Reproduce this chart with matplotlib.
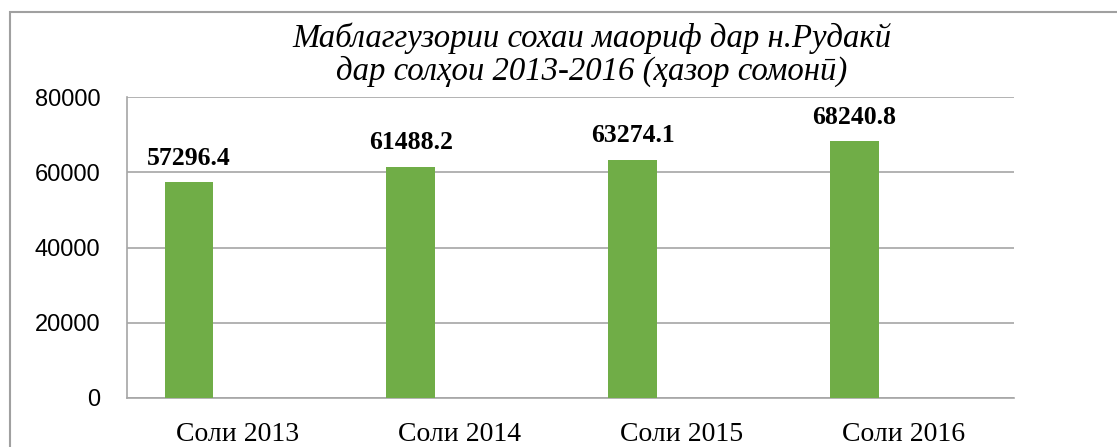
import matplotlib
matplotlib.use('Agg')
import matplotlib.pyplot as plt
from matplotlib.patches import Rectangle

years = ['Соли 2013', 'Соли 2014', 'Соли 2015', 'Соли 2016']
funding = [57296.4, 61488.2, 63274.1, 68240.8]
value_labels = ['57296.4', '61488.2', '63274.1', '68240.8']
title = 'Маблаггузории сохаи маориф дар н.Рудакй\nдар солҳои 2013-2016 (ҳазор сомонӣ)'

serif = ['Liberation Serif', 'DejaVu Serif']
grid_col = '#A6A6A6'

fig = plt.figure(figsize=(11.17, 4.47), dpi=100)
W, H = 1117, 447
# plot area in pixels: left 127, right 1014, top 97, bottom 398
ax = fig.add_axes([127 / W, 1 - 398 / H, (1014 - 127) / W, (398 - 97) / H])

x = range(len(years))
bw = 0.22
ax.bar([i - bw for i in x], funding, width=bw, color='#70AD47', zorder=3)

for i, v in enumerate(funding):
    ax.annotate(value_labels[i], (i - bw, v), xytext=(0, 9), textcoords='offset points',
                ha='center', va='bottom', fontsize=18.5, fontweight='bold', family=serif)

ax.set_xlim(-0.5, 3.5)
ax.set_ylim(0, 80000)
ax.set_yticks([0, 20000, 40000, 60000, 80000])
ax.set_xticks(list(x))
ax.set_xticklabels(years, family=serif, fontsize=20)
ax.tick_params(axis='x', length=0, pad=17)
ax.tick_params(axis='y', length=0, pad=19, labelsize=17)
for lab in ax.get_yticklabels():
    lab.set_family(['Liberation Sans', 'DejaVu Sans'])

ax.grid(axis='y', color=grid_col, linewidth=1.2, zorder=0)
for s in ['top', 'right']:
    ax.spines[s].set_visible(False)
ax.spines['left'].set_color(grid_col)
ax.spines['bottom'].set_color(grid_col)
ax.spines['left'].set_linewidth(1.2)
ax.spines['bottom'].set_linewidth(1.2)

fig.text(592 / W, 1 - 55 / H, title, ha='center', va='center', fontsize=23.6,
         style='italic', family=serif, linespacing=1.08)

# chart border (runs off the right and bottom edges)
fig.patches.append(Rectangle((10 / W, -0.1), 1.2, 1.1 - 12 / H, transform=fig.transFigure,
                             fill=False, edgecolor='#A0A0A0', linewidth=1.5))

fig.savefig('out.png', dpi=100)
